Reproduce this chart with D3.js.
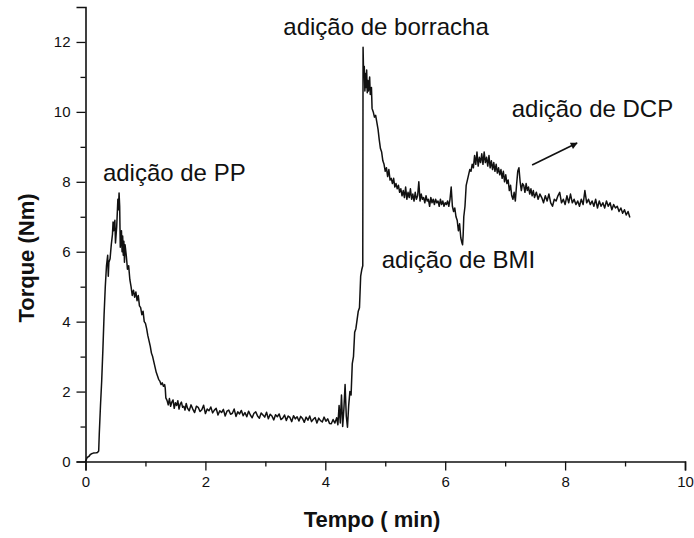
<!DOCTYPE html>
<html>
<head>
<meta charset="utf-8">
<script src="https://cdn.jsdelivr.net/npm/d3@7"></script>
<style>
  html, body { margin: 0; padding: 0; background: #fff; }
  svg { display: block; }
  text { font-family: "Liberation Sans", Arial, sans-serif; fill: #111; }
</style>
</head>
<body>
<svg id="chart" width="694" height="538"></svg>
<script>
// Torque curve during mixing (time in min, torque in N·m)
const tempo = [
  0, 0.03, 0.06, 0.08, 0.10, 0.13, 0.18, 0.20, 0.22,
  0.23, 0.25, 0.27, 0.29, 0.31, 0.33, 0.35, 0.37, 0.38, 0.39, 0.41, 0.43, 0.45, 0.46, 0.47, 0.49,
  0.50, 0.52, 0.54, 0.55, 0.56, 0.57, 0.58, 0.60, 0.61, 0.62, 0.63, 0.64, 0.65, 0.66, 0.68, 0.70,
  0.72, 0.74, 0.76, 0.78, 0.80, 0.82, 0.84, 0.86, 0.88, 0.90, 0.92, 0.94, 0.96, 0.98, 1.00,
  1.02, 1.04, 1.06, 1.08, 1.10, 1.12, 1.14, 1.16, 1.18, 1.20, 1.22, 1.24, 1.26, 1.28, 1.30,
  1.32, 1.33, 1.34, 1.36,
  1.38, 1.40, 1.42, 1.44, 1.46, 1.48, 1.50, 1.52, 1.54, 1.56, 1.58, 1.60, 1.62, 1.64, 1.66, 1.68,
  1.70, 1.73, 1.76, 1.79, 1.82, 1.85, 1.88, 1.91, 1.94, 1.97, 2.00, 2.03, 2.06, 2.09, 2.12, 2.15,
  2.18, 2.21, 2.24, 2.27, 2.30, 2.33, 2.36, 2.39, 2.42, 2.45, 2.48, 2.51, 2.54, 2.57, 2.60, 2.63,
  2.66, 2.69, 2.72, 2.75, 2.78, 2.81, 2.84, 2.87, 2.90, 2.93, 2.96, 2.99, 3.02, 3.05, 3.08, 3.11,
  3.14, 3.17, 3.20, 3.23, 3.26, 3.29, 3.32, 3.35, 3.38, 3.41, 3.44, 3.47, 3.50, 3.53, 3.56, 3.59,
  3.62, 3.65, 3.68, 3.71, 3.74, 3.77, 3.80, 3.83, 3.86, 3.89, 3.92, 3.95, 3.98, 4.01, 4.04, 4.07,
  4.10, 4.13, 4.16, 4.19, 4.21, 4.23, 4.25, 4.27, 4.29, 4.31, 4.33, 4.35, 4.37, 4.39, 4.41, 4.43,
  4.45, 4.47, 4.49, 4.51, 4.53, 4.55, 4.57, 4.59, 4.61, 4.625, 4.63,
  4.64, 4.65, 4.66, 4.67, 4.68, 4.69, 4.70, 4.71, 4.72, 4.74, 4.75, 4.77, 4.78, 4.80, 4.82, 4.84,
  4.86, 4.88, 4.90, 4.92, 4.94, 4.96, 4.98, 5.00, 5.02, 5.04, 5.06, 5.08, 5.10, 5.12, 5.14, 5.16,
  5.18, 5.20, 5.22, 5.24, 5.26, 5.28,
  5.30, 5.32, 5.34, 5.36, 5.38, 5.40, 5.42, 5.44, 5.46, 5.48, 5.50, 5.52, 5.54, 5.56, 5.58, 5.60,
  5.62, 5.64, 5.66, 5.68, 5.70, 5.72, 5.74, 5.76, 5.78, 5.80, 5.82, 5.84, 5.86, 5.88, 5.90, 5.92,
  5.94, 5.96, 5.98, 6.00, 6.02, 6.04, 6.06, 6.08, 6.10, 6.12, 6.14, 6.16, 6.18, 6.20, 6.22, 6.24,
  6.26, 6.28, 6.29, 6.30, 6.31, 6.33, 6.35, 6.37, 6.39, 6.41, 6.43, 6.45, 6.47, 6.49,
  6.51, 6.53, 6.55, 6.57, 6.59, 6.61, 6.63, 6.65, 6.67, 6.69, 6.71, 6.73, 6.75, 6.77, 6.79, 6.81,
  6.83, 6.85, 6.87, 6.89, 6.91, 6.93, 6.95, 6.97, 6.99, 7.01, 7.03, 7.05, 7.07, 7.09, 7.11, 7.13,
  7.15, 7.17, 7.19, 7.21, 7.23, 7.25, 7.27, 7.29, 7.31, 7.33, 7.35, 7.37, 7.39, 7.41, 7.43, 7.45,
  7.47, 7.49, 7.52, 7.55, 7.58, 7.61, 7.64, 7.67, 7.70, 7.73, 7.76, 7.79, 7.82, 7.85, 7.88, 7.91,
  7.94, 7.97, 8.00, 8.03, 8.06, 8.09, 8.12, 8.15, 8.18, 8.21, 8.24, 8.27, 8.30, 8.33, 8.36, 8.39,
  8.42, 8.45, 8.48, 8.51, 8.54, 8.57, 8.60, 8.63, 8.66, 8.69, 8.72, 8.75, 8.78, 8.81, 8.84, 8.87,
  8.90, 8.93, 8.96, 8.99, 9.02, 9.05, 9.08
];
const torque = [
  0, 0.12, 0.15, 0.20, 0.22, 0.24, 0.25, 0.26, 0.30,
  0.80, 1.60, 2.30, 3.20, 4.20, 5.00, 5.60, 5.90, 5.30, 5.70, 5.80, 6.20, 6.50, 6.85, 6.60, 6.90,
  6.25, 6.70, 7.50, 7.20, 7.68, 7.30, 6.13, 6.60, 6.00, 6.45, 5.90, 6.30, 5.70, 6.20, 5.90, 5.50,
  5.60, 5.20, 5.00, 4.75, 4.90, 4.70, 4.85, 4.60, 4.75, 4.45, 4.40, 4.20, 4.30, 4.00, 3.95,
  3.80, 3.60, 3.45, 3.30, 3.10, 3.00, 2.85, 2.70, 2.55, 2.45, 2.35, 2.30, 2.20, 2.25, 2.15,
  2.20, 2.10, 1.82, 1.75,
  1.62, 1.80, 1.58, 1.70, 1.76, 1.52, 1.68, 1.60, 1.74, 1.50, 1.64, 1.70, 1.55, 1.58, 1.47, 1.66,
  1.53, 1.45, 1.62, 1.50, 1.40, 1.58, 1.55, 1.43, 1.48, 1.61, 1.37, 1.50, 1.45, 1.56, 1.39, 1.47,
  1.52, 1.33, 1.45, 1.40, 1.49, 1.30, 1.44, 1.47, 1.35, 1.38, 1.50, 1.29, 1.42, 1.36, 1.46, 1.31,
  1.40, 1.28, 1.44, 1.33, 1.25, 1.38, 1.42, 1.30, 1.24, 1.39, 1.33, 1.27, 1.41, 1.22, 1.35, 1.30,
  1.19, 1.34, 1.28, 1.36, 1.20, 1.24, 1.33, 1.17, 1.30, 1.26, 1.14, 1.31, 1.22, 1.28, 1.16, 1.29,
  1.23, 1.12, 1.27, 1.18, 1.30, 1.14, 1.21, 1.26, 1.10, 1.24, 1.17, 1.13, 1.27, 1.15, 1.22, 1.09,
  1.08, 1.20, 1.10, 1.25, 1.05, 1.60, 1.10, 1.90, 1.00, 1.50, 2.20, 1.30, 0.98, 1.60, 2.00, 1.90,
  2.80, 3.00, 3.70, 3.80, 4.05, 4.30, 4.40, 5.30, 5.50, 5.60, 11.85,
  11.00, 11.30, 10.60, 11.10, 10.70, 11.20, 10.55, 10.90, 10.60, 11.00, 10.50, 10.70, 10.10, 10.00, 9.85, 9.90,
  9.70, 9.50, 9.20, 8.95, 8.85, 8.60, 8.50, 8.30, 8.40, 8.15, 8.35, 8.05, 8.10, 7.95, 8.10, 7.85,
  7.95, 7.80, 7.90, 7.70, 7.80, 7.60,
  7.75, 7.55, 7.85, 7.50, 7.70, 7.55, 7.80, 7.50, 7.65, 7.45, 7.70, 7.50, 7.60, 8.00, 7.45, 7.65,
  7.50, 7.55, 7.40, 7.60, 7.45, 7.50, 7.30, 7.55, 7.40, 7.50, 7.35, 7.50, 7.40, 7.45, 7.30, 7.50,
  7.35, 7.45, 7.30, 7.40, 7.35, 7.45, 7.30, 7.50, 7.85, 7.30, 7.15, 7.25, 7.00, 6.90, 6.60, 6.80,
  6.40, 6.25, 6.20, 6.50, 7.00, 7.30, 7.90, 8.05, 8.20, 8.35, 8.30, 8.50, 8.40, 8.75,
  8.50, 8.85, 8.45, 8.70, 8.55, 8.80, 8.50, 8.85, 8.55, 8.70, 8.45, 8.75, 8.40, 8.60, 8.35, 8.55,
  8.30, 8.50, 8.25, 8.40, 8.20, 8.35, 8.10, 8.30, 8.00, 8.20, 7.95, 8.05, 7.75, 7.90, 7.60, 7.50,
  7.70, 7.45, 7.90, 8.30, 8.40, 8.00, 7.75, 7.95, 7.90, 7.70, 7.95, 7.75, 7.85, 7.65, 7.80, 7.60,
  7.75, 7.55, 7.70, 7.50, 7.65, 7.55, 7.40, 7.60, 7.45, 7.65, 7.40, 7.30, 7.50, 7.45, 7.60, 7.70,
  7.40, 7.50, 7.35, 7.60, 7.40, 7.65, 7.40, 7.50, 7.35, 7.45, 7.30, 7.50, 7.35, 7.75, 7.40, 7.50,
  7.35, 7.45, 7.30, 7.50, 7.25, 7.45, 7.30, 7.40, 7.25, 7.45, 7.30, 7.40, 7.20, 7.35, 7.25, 7.30,
  7.15, 7.25, 7.10, 7.20, 7.05, 7.15, 6.98
];

// Axis ticks
const xMajorTicks = [0, 2, 4, 6, 8, 10];
const xMinorTicks = [1, 3, 5, 7, 9];
const yMajorTicks = [0, 2, 4, 6, 8, 10, 12];
const yMinorTicks = [1, 3, 5, 7, 9, 11];

// Event labels: text, time and torque at the text baseline start
const eventLabels = ["adição de PP", "adição de borracha", "adição de BMI", "adição de DCP"];
const eventTempo  = [0.29, 3.30, 4.94, 7.11];
const eventTorque = [8.02, 12.20, 5.53, 9.85];

// Arrow pointing toward the DCP addition label (from/to in data units)
const arrowTempo  = [7.45, 8.20];
const arrowTorque = [8.48, 9.11];

const svg = d3.select("#chart");
const W = 694, H = 538;
const margin = { left: 85.5, right: 9, top: 7, bottom: 76.5 };

svg.append("rect").attr("width", W).attr("height", H).attr("fill", "#fff");

const x = d3.scaleLinear().domain([0, 10]).range([margin.left, W - margin.right]);
const y = d3.scaleLinear().domain([0, 13]).range([H - margin.bottom, margin.top]);

const fmt = d3.format("d");

// Minor ticks first, so major axis lines sit on top
svg.append("g")
  .attr("transform", `translate(0,${y(0)})`)
  .call(d3.axisBottom(x).tickValues(xMinorTicks).tickSize(5).tickSizeOuter(0).tickFormat(""))
  .call(g => g.select(".domain").remove());
svg.append("g")
  .attr("transform", `translate(${x(0)},0)`)
  .call(d3.axisLeft(y).tickValues(yMinorTicks).tickSize(5).tickSizeOuter(0).tickFormat(""))
  .call(g => g.select(".domain").remove());

svg.append("g")
  .attr("transform", `translate(0,${y(0)})`)
  .call(d3.axisBottom(x).tickValues(xMajorTicks).tickSize(9).tickSizeOuter(9).tickPadding(6).tickFormat(fmt));
svg.append("g")
  .attr("transform", `translate(${x(0)},0)`)
  .call(d3.axisLeft(y).tickValues(yMajorTicks).tickSize(9).tickSizeOuter(9).tickPadding(6).tickFormat(fmt));

svg.selectAll(".domain").attr("stroke", "#111").attr("stroke-width", 1.6);
svg.selectAll(".tick line").attr("stroke", "#111").attr("stroke-width", 1.3);
svg.selectAll(".tick text")
  .attr("font-family", "'Liberation Sans', Arial, sans-serif")
  .attr("font-size", 15)
  .attr("fill", "#1a1a1a");

// Axis titles
svg.append("text")
  .attr("x", 372).attr("y", 527)
  .attr("text-anchor", "middle")
  .attr("font-size", 22).attr("font-weight", "bold")
  .text("Tempo ( min)");
svg.append("text")
  .attr("transform", "translate(34,258) rotate(-90)")
  .attr("text-anchor", "middle")
  .attr("font-size", 22).attr("font-weight", "bold")
  .text("Torque (Nm)");

// Torque curve
const pts = tempo.map((t, i) => [t, torque[i]]);
svg.append("path")
  .datum(pts)
  .attr("fill", "none")
  .attr("stroke", "#111")
  .attr("stroke-width", 1.5)
  .attr("stroke-linejoin", "round")
  .attr("d", d3.line().x(d => x(d[0])).y(d => y(d[1])));

// Event annotations
svg.selectAll("text.event")
  .data(eventLabels)
  .join("text")
  .attr("class", "event")
  .attr("x", (d, i) => x(eventTempo[i]))
  .attr("y", (d, i) => y(eventTorque[i]))
  .attr("font-size", 24)
  .text(d => d);

// Arrow
svg.append("defs").append("marker")
  .attr("id", "arrowhead")
  .attr("viewBox", "0 0 10 10")
  .attr("refX", 9).attr("refY", 5)
  .attr("markerWidth", 9).attr("markerHeight", 7)
  .attr("markerUnits", "userSpaceOnUse")
  .attr("orient", "auto")
  .append("path")
  .attr("d", "M0,0 L10,5 L0,10 Z")
  .attr("fill", "#111");
svg.append("line")
  .attr("x1", x(arrowTempo[0])).attr("y1", y(arrowTorque[0]))
  .attr("x2", x(arrowTempo[1])).attr("y2", y(arrowTorque[1]))
  .attr("stroke", "#111").attr("stroke-width", 1.6)
  .attr("marker-end", "url(#arrowhead)");
</script>
</body>
</html>
